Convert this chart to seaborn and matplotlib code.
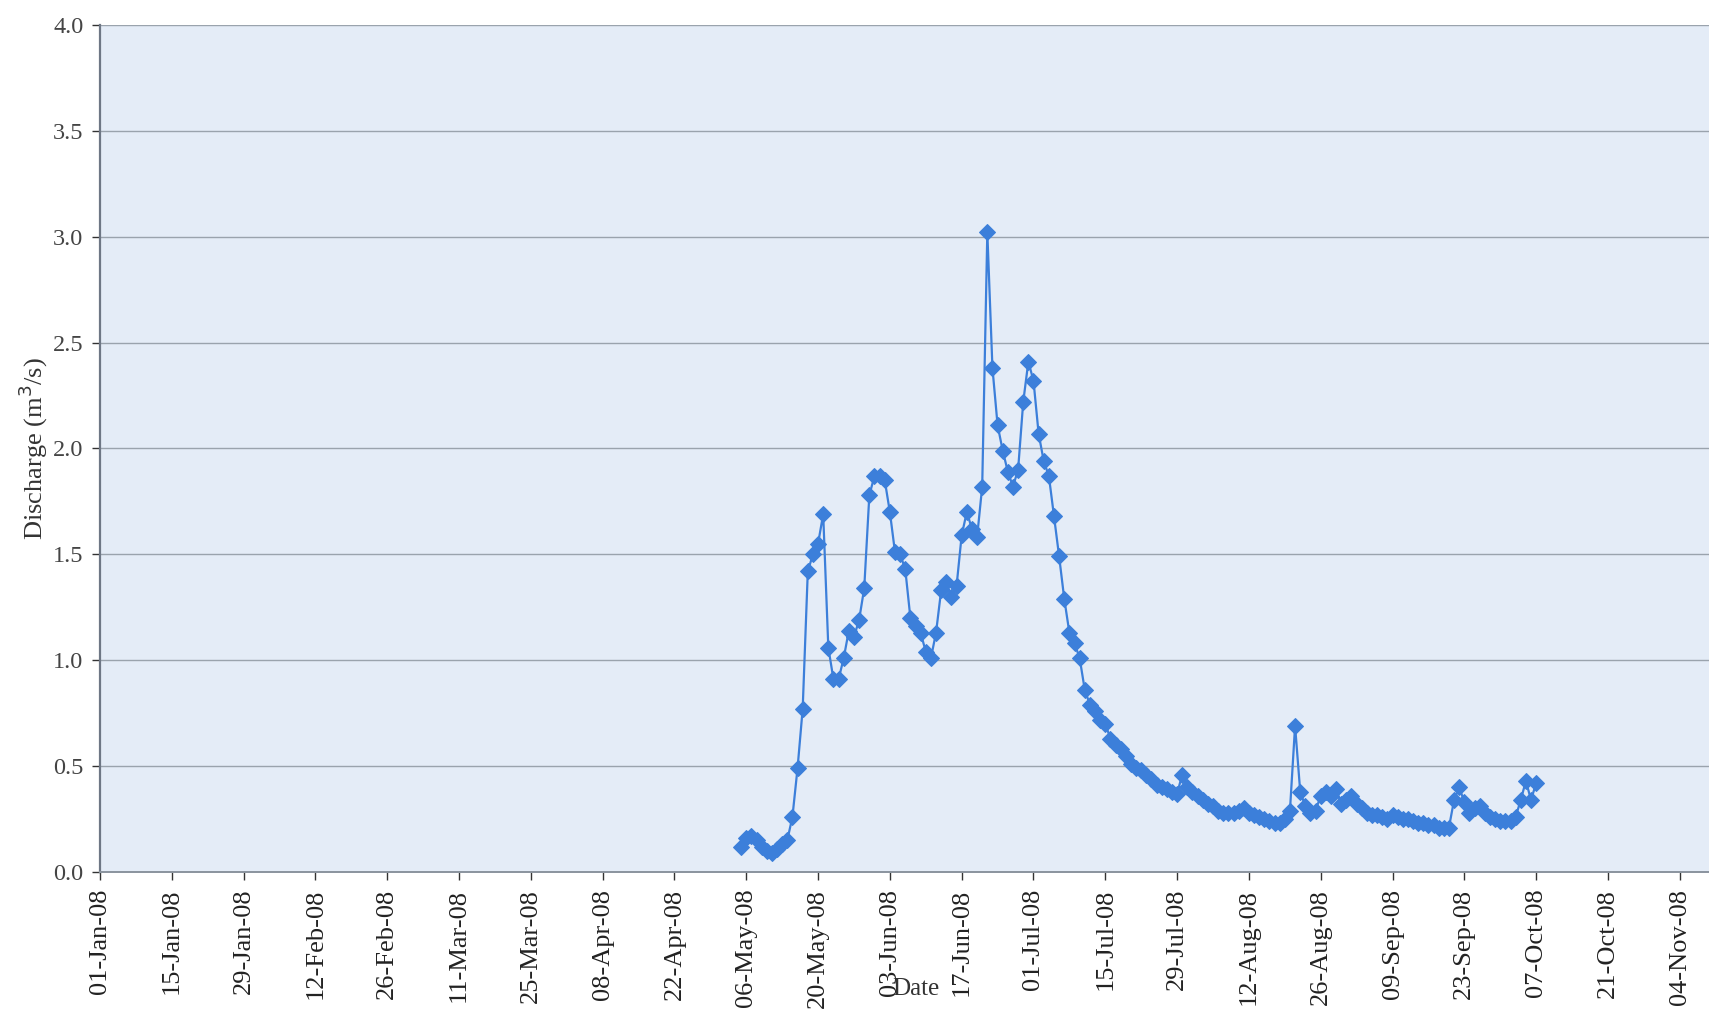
import numpy as np
import pandas as pd
import matplotlib
matplotlib.use("Agg")
import matplotlib.pyplot as plt
import matplotlib.dates as mdates
import seaborn as sns

# Daily mean discharge (m3/s), 5 May 2008 onward
start_date = "2008-05-05"
discharge = [
    0.12, 0.16, 0.17, 0.15, 0.12, 0.10, 0.09, 0.11, 0.13, 0.15,   # May 5-14
    0.26, 0.49, 0.77, 1.42, 1.50, 1.55, 1.69, 1.06, 0.91, 0.91,   # May 15-24
    1.01, 1.14, 1.11, 1.19, 1.34, 1.78, 1.87, 1.87, 1.85, 1.70,   # May 25-Jun 3
    1.51, 1.50, 1.43, 1.20, 1.16, 1.13, 1.04, 1.01, 1.13, 1.33,   # Jun 4-13
    1.37, 1.30, 1.35, 1.59, 1.70, 1.62, 1.58, 1.82, 3.02, 2.38,   # Jun 14-23
    2.11, 1.99, 1.89, 1.82, 1.90, 2.22, 2.41, 2.32, 2.07, 1.94,   # Jun 24-Jul 3
    1.87, 1.68, 1.49, 1.29, 1.13, 1.08, 1.01, 0.86, 0.79, 0.76,   # Jul 4-13
    0.72, 0.70, 0.63, 0.60, 0.58, 0.55, 0.51, 0.49, 0.48, 0.46,   # Jul 14-23
    0.44, 0.41, 0.40, 0.39, 0.38, 0.37, 0.46, 0.40, 0.38, 0.36,   # Jul 24-Aug 2
    0.34, 0.32, 0.31, 0.29, 0.28, 0.28, 0.28, 0.29, 0.30, 0.28,   # Aug 3-12
    0.27, 0.26, 0.25, 0.24, 0.23, 0.23, 0.25, 0.29, 0.69, 0.38,   # Aug 13-22
    0.31, 0.28, 0.29, 0.36, 0.38, 0.36, 0.39, 0.32, 0.34, 0.36,   # Aug 23-Sep 1
    0.32, 0.30, 0.28, 0.27, 0.27, 0.26, 0.25, 0.27, 0.26, 0.25,   # Sep 2-11
    0.25, 0.24, 0.23, 0.23, 0.22, 0.22, 0.21, 0.21, 0.21, 0.34,   # Sep 12-21
    0.40, 0.33, 0.28, 0.30, 0.31, 0.28, 0.26, 0.25, 0.24, 0.24,   # Sep 22-Oct 1
    0.24, 0.26, 0.34, 0.43, 0.34, 0.42,                           # Oct 2-7
]
dates = pd.date_range(start_date, periods=len(discharge), freq="D")

y_ticks = [0.0, 0.5, 1.0, 1.5, 2.0, 2.5, 3.0, 3.5, 4.0]
tick_start = "2008-01-01"
tick_step_days = 14

df = pd.DataFrame({"Date": dates, "Discharge": discharge})

sns.set_theme(style="white")
plt.rcParams["font.family"] = ["Liberation Serif", "DejaVu Serif"]

fig = plt.figure(figsize=(17.09, 10.11), dpi=100)
ax = fig.add_axes([0.0585, 0.1375, 0.9415, 0.8378])
ax.set_facecolor("#e4ecf7")

line_color = "#3c7fda"
sns.lineplot(data=df, x="Date", y="Discharge", ax=ax, color=line_color,
             linewidth=1.6, marker="D", markersize=8,
             markeredgecolor=line_color, markerfacecolor=line_color)

# axis ranges
x0 = pd.Timestamp(tick_start)
ax.set_xlim(x0, x0 + pd.Timedelta(days=313.7))
ax.set_ylim(0, 4.0)

# ticks
x_ticks = pd.date_range(tick_start, "2008-11-10", freq=f"{tick_step_days}D")
ax.set_xticks(x_ticks)
ax.xaxis.set_major_formatter(mdates.DateFormatter("%d-%b-%y"))
ax.set_yticks(y_ticks)
ax.yaxis.set_major_formatter(matplotlib.ticker.FormatStrFormatter("%.1f"))

ax.tick_params(axis="x", rotation=90, labelsize=19, colors="#333333",
               direction="out", length=6, width=1, bottom=True, pad=6)
ax.tick_params(axis="y", labelsize=17.5, colors="#333333",
               direction="out", length=6, width=1, left=True, pad=6)
for lab in ax.get_xticklabels():
    lab.set_color("#222222")
for lab in ax.get_yticklabels():
    lab.set_color("#444444")

# grid
ax.yaxis.grid(True, color="#9aa3ad", linewidth=1.0)
ax.xaxis.grid(False)
ax.set_axisbelow(True)

# spines
for side in ["top", "right"]:
    ax.spines[side].set_visible(False)
ax.spines["left"].set_color("#6e7785")
ax.spines["left"].set_linewidth(1.6)
ax.spines["bottom"].set_color("#8a939e")
ax.spines["bottom"].set_linewidth(1.4)

ax.set_xlabel("")
ax.set_ylabel("Discharge (m$^3$/s)", fontsize=19, color="#333333", labelpad=2)
fig.text(0.536, 0.022, "Date", fontsize=18, color="#333333",
         ha="center", va="center")

fig.savefig("out.png", dpi=100, facecolor="white")
